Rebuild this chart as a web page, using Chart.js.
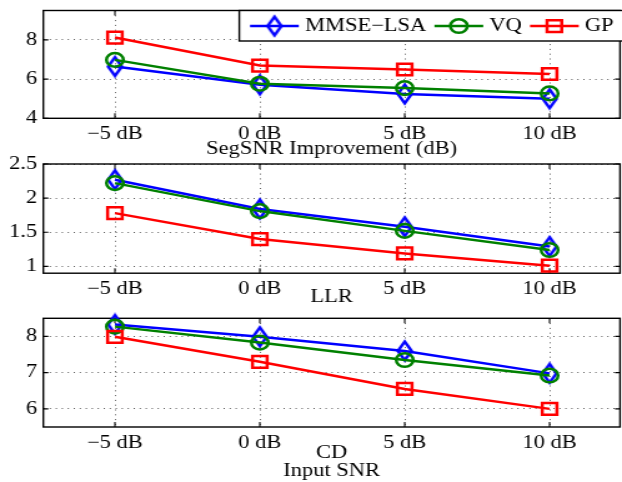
<!DOCTYPE html>
<html><head><meta charset="utf-8">
<script src="https://cdn.jsdelivr.net/npm/chart.js@4.4.1/dist/chart.umd.min.js"></script>
<style>
html,body{margin:0;padding:0;background:#fff;width:622px;height:482px;overflow:hidden;}
canvas{position:absolute;left:0;}
</style></head><body>
<canvas id="c1" width="498" height="160" style="top:0px;width:622px;height:160px"></canvas>
<canvas id="c2" width="498" height="156" style="top:152px;width:622px;height:156px"></canvas>
<canvas id="c3" width="498" height="172" style="top:309px;width:622px;height:172px"></canvas>
<script>
// ---- data ----
const snrValues = [-5, 0, 5, 10];
const snrLabels = ['−5 dB', '0 dB', '5 dB', '10 dB'];
const seriesNames = ['MMSE−LSA', 'VQ', 'GP'];

const segsnrMMSE = [6.64, 5.71, 5.24, 5.00];
const segsnrVQ   = [6.98, 5.76, 5.54, 5.27];
const segsnrGP   = [8.12, 6.69, 6.49, 6.26];

const llrMMSE = [2.27, 1.84, 1.58, 1.29];
const llrVQ   = [2.22, 1.81, 1.52, 1.24];
const llrGP   = [1.78, 1.40, 1.19, 1.01];

const cdMMSE = [8.33, 7.99, 7.60, 6.98];
const cdVQ   = [8.27, 7.83, 7.35, 6.92];
const cdGP   = [7.99, 7.30, 6.55, 6.00];

const segsnrTicks = [4, 6, 8];
const llrTicks = [1, 1.5, 2, 2.5];
const cdTicks = [6, 7, 8];

// ---- styles ----
const FONT = "'Liberation Serif', 'Times New Roman', serif";
const BLUE = '#0000ff', GREEN = '#008000', RED = '#ff0000';
const GRID = 'rgba(40,40,40,0.75)';
const LW = 2.5;

function makeDiamond(color, hw, hh, lw) {
  const c = document.createElement('canvas');
  c.width = Math.ceil(2 * hw + lw + 2);
  c.height = Math.ceil(2 * hh + lw + 2);
  const g = c.getContext('2d');
  const cx = c.width / 2, cy = c.height / 2;
  g.strokeStyle = color; g.lineWidth = lw; g.lineJoin = 'miter';
  g.beginPath();
  g.moveTo(cx, cy - hh); g.lineTo(cx + hw, cy); g.lineTo(cx, cy + hh); g.lineTo(cx - hw, cy);
  g.closePath(); g.stroke();
  return c;
}
const diamondImg = makeDiamond(BLUE, 5.5, 9.3, LW);

const seriesStyles = [
  {color: BLUE, pointStyle: diamondImg, radius: 8, order: 2},
  {color: GREEN, pointStyle: 'circle', radius: 6.8, order: 1},
  {color: RED, pointStyle: 'rect', radius: 8.3, order: 0}
];

function ds(i, vals) {
  const s = seriesStyles[i];
  return {
    label: seriesNames[i],
    data: vals.map((y, k) => ({x: snrValues[k], y})),
    borderColor: s.color, backgroundColor: 'rgba(0,0,0,0)',
    borderWidth: LW,
    pointStyle: s.pointStyle, pointRadius: s.radius,
    pointBorderColor: s.color, pointBackgroundColor: 'rgba(0,0,0,0)',
    pointBorderWidth: LW, tension: 0, order: s.order, clip: false
  };
}

const framePlugin = {
  id: 'frame',
  beforeDatasetsDraw(chart) {
    const {ctx, chartArea: a, scales} = chart;
    ctx.save();
    ctx.strokeStyle = '#000';
    ctx.lineWidth = 1.1;
    ctx.beginPath();
    scales.x.ticks.forEach(t => {
      const px = scales.x.getPixelForValue(t.value);
      ctx.moveTo(px, a.bottom); ctx.lineTo(px, a.bottom - 5);
      ctx.moveTo(px, a.top); ctx.lineTo(px, a.top + 5);
    });
    scales.y.ticks.forEach(t => {
      const py = scales.y.getPixelForValue(t.value);
      ctx.moveTo(a.left, py); ctx.lineTo(a.left + 4, py);
      ctx.moveTo(a.right, py); ctx.lineTo(a.right - 4, py);
    });
    ctx.stroke();
    ctx.lineWidth = 1.4;
    ctx.strokeRect(a.left, a.top, a.right - a.left, a.bottom - a.top);
    ctx.restore();
  }
};

const legendPlugin = {
  id: 'mlegend',
  afterDraw(chart) {
    const {ctx, chartArea: a} = chart;
    const L = 191.6, T = a.top, B = 41, R = 530;
    ctx.save();
    ctx.fillStyle = '#fff';
    ctx.fillRect(L, T, R - L, B - T);
    ctx.strokeStyle = '#000'; ctx.lineWidth = 1.4;
    ctx.strokeRect(L, T, R - L, B - T);
    ctx.font = '18px ' + FONT;
    ctx.textBaseline = 'middle';
    ctx.textAlign = 'left';
    const yMid = (T + B) / 2 + 0.3;
    let x = L + 8.6;
    chart.data.datasets.slice().sort((p, q) => seriesNames.indexOf(p.label) - seriesNames.indexOf(q.label)).forEach(d => {
      const len = 39;
      ctx.strokeStyle = d.borderColor; ctx.lineWidth = LW;
      ctx.beginPath(); ctx.moveTo(x, yMid); ctx.lineTo(x + len, yMid); ctx.stroke();
      ctx.fillStyle = 'rgba(0,0,0,0)';
      Chart.helpers.drawPoint(ctx, {pointStyle: d.pointStyle, radius: d.pointRadius, borderWidth: LW, rotation: 0}, x + len / 2, yMid);
      ctx.fillStyle = '#000';
      const tx = x + len + 5;
      ctx.fillText(d.label, tx, yMid);
      x = tx + ctx.measureText(d.label).width + 6.5;
    });
    ctx.restore();
  }
};

function makePanel(id, mmse, vq, gp, yMin, yMax, yTicks, titleText, padTop, xHeight, titleLH, withLegend) {
  const tickFont = () => ({family: FONT, size: 18, lineHeight: 1.2});
  return new Chart(document.getElementById(id), {
    type: 'line',
    data: {datasets: [ds(0, mmse), ds(1, vq), ds(2, gp)]},
    options: {
      responsive: false, animation: false, devicePixelRatio: 1,
      layout: {autoPadding: false, padding: {left: 0, right: 1.6, top: padTop, bottom: 0}},
      plugins: {legend: {display: false}, tooltip: {enabled: false}},
      scales: {
        x: {
          type: 'linear', min: -7.47, max: 12.43,
          afterBuildTicks: s => { s.ticks = snrValues.map(v => ({value: v})); },
          ticks: {callback: v => snrLabels[snrValues.indexOf(v)], font: tickFont(), color: '#000', padding: 5, maxRotation: 0, autoSkip: false},
          grid: {color: GRID, lineWidth: 1, drawTicks: false},
          border: {display: false, dash: [1, 3.8]},
          title: {display: true, text: titleText, color: '#000', font: {family: FONT, size: 18, lineHeight: titleLH}, padding: {top: 0, bottom: 0}},
          afterFit: s => { s.height = xHeight; s.paddingLeft = 0; s.paddingRight = 0; }
        },
        y: {
          type: 'linear', min: yMin, max: yMax,
          afterBuildTicks: s => { s.ticks = yTicks.map(v => ({value: v})); },
          ticks: {font: tickFont(), color: '#000', padding: 5, callback: v => String(v)},
          grid: {color: GRID, lineWidth: 1, drawTicks: false},
          border: {display: false, dash: [1, 3.8]},
          afterFit: s => { s.width = 34.7; s.paddingTop = 0; s.paddingBottom = 0; }
        }
      }
    },
    plugins: withLegend ? [framePlugin, legendPlugin] : [framePlugin]
  });
}

makePanel('c1', segsnrMMSE, segsnrVQ, segsnrGP, 4, 9.5, segsnrTicks, 'SegSNR Improvement (dB)', 10.5, 41.7, 1.2, true);
makePanel('c2', llrMMSE, llrVQ, llrGP, 0.9, 2.5, llrTicks, 'LLR', 12, 34.8, 1.2, false);
makePanel('c3', cdMMSE, cdVQ, cdGP, 5.5, 8.5, cdTicks, ['CD', 'Input SNR'], 9.3, 54, 1.04, false);
</script>
</body></html>
